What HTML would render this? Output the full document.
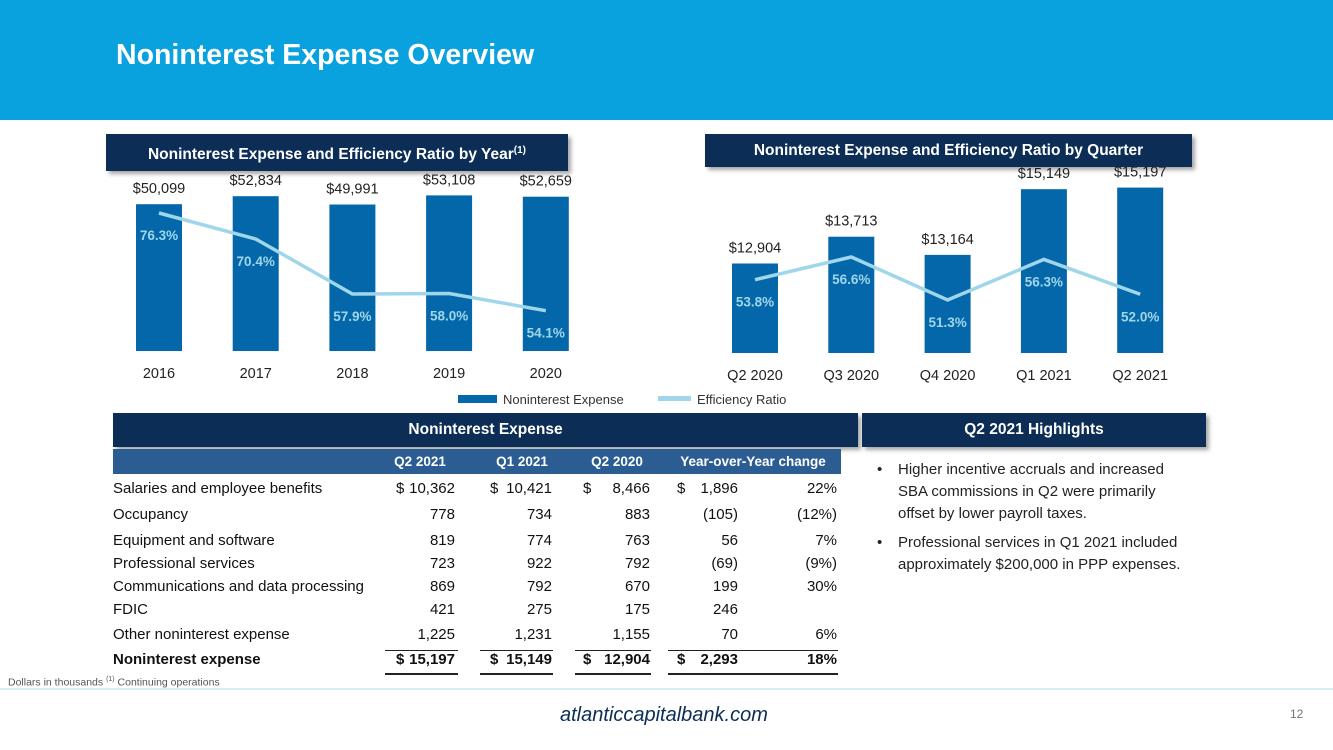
<!DOCTYPE html>
<html><head><meta charset="utf-8">
<style>
body{margin:0;width:1333px;height:750px;overflow:hidden;background:#fff;font-family:"Liberation Sans",sans-serif;position:relative}
.abs{position:absolute}
.banner{position:absolute;background:#0c2d55;color:#fff;font-weight:bold;font-size:15.5px;text-align:center;line-height:33px;box-shadow:3px 3px 4px rgba(0,0,0,0.35)}
.tb{position:absolute;font-size:15px;color:#111;white-space:nowrap}
.r{text-align:right}
</style></head><body>
<div class="abs" style="left:0;top:0;width:1333px;height:120px;background:#0aa2de"></div>
<div class="abs" style="left:116px;top:39px;color:#fff;font-weight:bold;font-size:28.5px">Noninterest Expense Overview</div>

<div class="banner" style="left:106px;top:134px;width:462px">Noninterest Expense and Efficiency Ratio by Year<sup style="font-size:10px;vertical-align:6px">(1)</sup></div>
<div class="banner" style="left:705px;top:134px;width:487px">Noninterest Expense and Efficiency Ratio by Quarter</div>

<svg class="abs" style="left:0;top:0" width="1333" height="410">
<g id="left"></g><g id="right"></g>
<g>
<rect x="458" y="395" width="39" height="8" fill="#0467aa"/>
<text x="503" y="404" font-size="13" fill="#333" font-family="Liberation Sans">Noninterest Expense</text>
<rect x="658" y="396" width="33" height="5" fill="#9fd6ea"/>
<text x="697" y="404" font-size="13" fill="#333" font-family="Liberation Sans">Efficiency Ratio</text>
</g>
</svg>

<script>
const yearCats=["2016","2017","2018","2019","2020"];
const yearExp=[50099,52834,49991,53108,52659];
const yearRatio=[76.3,70.4,57.9,58.0,54.1];
const qCats=["Q2 2020","Q3 2020","Q4 2020","Q1 2021","Q2 2021"];
const qExp=[12904,13713,13164,15149,15197];
const qRatio=[53.8,56.6,51.3,56.3,52.0];
const NS="http://www.w3.org/2000/svg";
function mk(p,t,a,txt){const e=document.createElementNS(NS,t);for(const k in a)e.setAttribute(k,a[k]);if(txt!=null)e.textContent=txt;p.appendChild(e);return e;}
function draw(g,cats,exp,ratio,x0,step,base,vmin,k,ry0,rv0,rk){
  const xs=i=>x0+i*step;
  const yb=v=>base-(v-vmin)*k;
  const yr=v=>ry0+(rv0-v)*rk;
  const pts=[];
  cats.forEach((c,i)=>{
    const x=xs(i),t=yb(exp[i]);
    const b=mk(g,'rect',{x:x-23,y:t,width:46,height:base-t,fill:'#0467aa'});
    
    
    mk(g,'text',{x:x,y:t-11,'text-anchor':'middle','font-size':14.5,fill:'#222','font-family':'Liberation Sans'},'$'+exp[i].toLocaleString('en-US'));
    mk(g,'text',{x:x,y:base+27,'text-anchor':'middle','font-size':14.5,fill:'#222','font-family':'Liberation Sans'},c);
    pts.push(x+','+yr(ratio[i]));
  });
  const l=mk(g,'polyline',{points:pts.join(' '),fill:'none',stroke:'#9fd6ea','stroke-width':3.5});
  
  
  cats.forEach((c,i)=>{
    mk(g,'text',{x:xs(i),y:yr(ratio[i])+27,'text-anchor':'middle','font-size':13.5,'font-weight':'bold',fill:'#9fd6ea','font-family':'Liberation Sans'},ratio[i].toFixed(1)+'%');
  });
}
draw(document.getElementById('left'),yearCats,yearExp,yearRatio,159,96.7,351,0,0.00293,213,76.3,4.4);
draw(document.getElementById('right'),qCats,qExp,qRatio,755,96.3,353,10200,0.0331,257,56.6,8.1);
</script>

<div class="banner" style="left:113px;top:413px;width:745px;line-height:34px">Noninterest Expense</div>
<div class="abs" style="left:113px;top:449px;width:728px;height:25px;background:#2b5d93"></div>
<div class="tb" style="left:380px;top:454px;width:80px;text-align:center;color:#fff;font-weight:bold;font-size:13.5px">Q2 2021</div>
<div class="tb" style="left:482px;top:454px;width:80px;text-align:center;color:#fff;font-weight:bold;font-size:13.5px">Q1 2021</div>
<div class="tb" style="left:577px;top:454px;width:80px;text-align:center;color:#fff;font-weight:bold;font-size:13.5px">Q2 2020</div>
<div class="tb" style="left:670px;top:454px;width:166px;text-align:center;color:#fff;font-weight:bold;font-size:13.5px">Year-over-Year change</div>

<div id="tbl"></div>
<script>
const rows=[
["Salaries and employee benefits","10,362","10,421","8,466","1,896","22%",1],
["Occupancy","778","734","883","(105)","(12%)",0],
["Equipment and software","819","774","763","56","7%",0],
["Professional services","723","922","792","(69)","(9%)",0],
["Communications and data processing","869","792","670","199","30%",0],
["FDIC","421","275","175","246","",0],
["Other noninterest expense","1,225","1,231","1,155","70","6%",0],
["Noninterest expense","15,197","15,149","12,904","2,293","18%",2]];
const rowY=[480,506,532,555,578,601,626,651];
const T=document.getElementById('tbl');
function d(x,y,w,txt,cls,bold){const e=document.createElement('div');e.className='tb '+cls;e.style.left=x+'px';e.style.top=y+'px';if(w)e.style.width=w+'px';if(bold)e.style.fontWeight='bold';e.textContent=txt;T.appendChild(e);return e;}
rows.forEach((r,i)=>{
 const y=rowY[i],b=r[6]==2;
 d(113,y,0,r[0],'',b);
 d(375,y,80,r[1],'r',b);d(472,y,80,r[2],'r',b);d(570,y,80,r[3],'r',b);d(668,y,70,r[4],'r',b);d(770,y,67,r[5],'r',b);
 if(r[6]){d(396,y,0,'$','',b);d(490,y,0,'$','',b);d(583,y,0,'$','',b);d(677,y,0,'$','',b);}
});
[[385,458],[480,553],[575,651],[668,838]].forEach(s=>{
 const a=document.createElement('div');a.className='abs';a.style.cssText=`left:${s[0]}px;top:650px;width:${s[1]-s[0]}px;height:1px;background:#222`;T.appendChild(a);
 const c=document.createElement('div');c.className='abs';c.style.cssText=`left:${s[0]}px;top:673px;width:${s[1]-s[0]}px;height:2px;background:#222`;T.appendChild(c);
});
</script>

<div class="banner" style="left:862px;top:413px;width:344px;line-height:34px">Q2 2021 Highlights</div>
<div class="abs" style="left:877px;top:459px;width:312px;font-size:15px;line-height:22px;color:#222">
<div style="position:relative;padding-left:21px">
<span style="position:absolute;left:0">•</span>Higher incentive accruals and increased SBA commissions in Q2 were primarily offset by lower payroll taxes.</div>
<div style="position:relative;padding-left:21px;margin-top:7px">
<span style="position:absolute;left:0">•</span>Professional services in Q1 2021 included approximately $200,000 in PPP expenses.</div>
</div>

<div class="abs" style="left:8px;top:676px;font-size:10.5px;color:#555">Dollars in thousands <sup style="font-size:7px">(1)</sup> Continuing operations</div>
<div class="abs" style="left:0;top:688px;width:1333px;height:2px;background:#d8eef6"></div>
<div class="abs" style="left:560px;top:704px;font-size:20px;font-style:italic;color:#0c2d55">atlanticcapitalbank.com</div>
<div class="abs" style="left:1290px;top:707px;font-size:12px;color:#777">12</div>
</body></html>
